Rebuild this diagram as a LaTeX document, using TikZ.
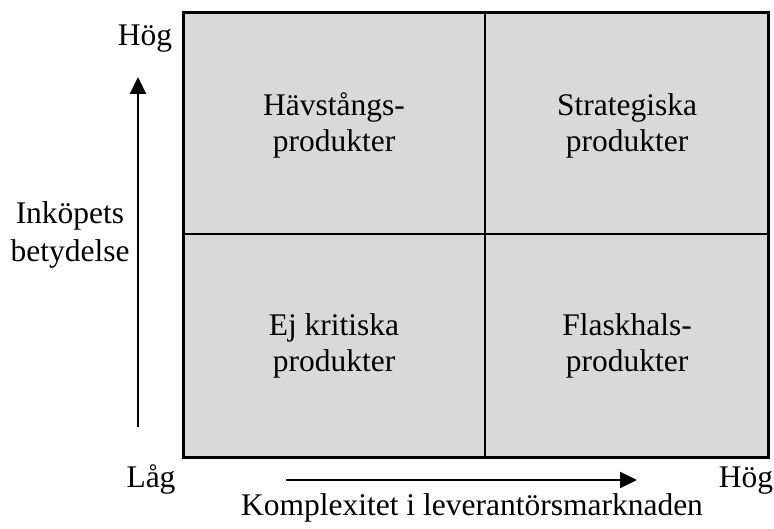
\documentclass[tikz,border=0pt]{standalone}
\usepackage{fontspec}
\setmainfont{Liberation Serif}
\usetikzlibrary{arrows.meta}
\definecolor{boxgray}{HTML}{D9D9D9}
\tikzset{
  lbl/.style={inner sep=0pt, anchor=base, align=center,
    font=\fontsize{31.5}{36}\selectfont},
  axis/.style={line width=2.2pt, -{Triangle[length=17pt,width=16pt]}},
  frame/.style={line width=3pt, fill=boxgray},
  divider/.style={line width=2.7pt}
}
\begin{document}
\begin{tikzpicture}[x=1pt,y=-1pt]
\useasboundingbox (0,0) rectangle (774,529);
\draw[frame] (183,13) rectangle (768,457);
\draw[divider] (485,13) -- (485,457);
\draw[divider] (183,234) -- (768,234);
\node[lbl] (c1) at (334,152) {Hävstångs-\\produkter};
\node[lbl] (c2) at (627,152) {Strategiska\\produkter};
\node[lbl] (c3) at (334,372) {Ej kritiska\\produkter};
\node[lbl, font=\fontsize{31.5}{38}\selectfont] (ylab) at (70,262) {Inköpets\\betydelse};
\node[lbl] (c4) at (627,372) {Flaskhals-\\produkter};
\node[lbl] (ytop) at (145,46) {Hög};
\node[lbl] (ylow) at (151,487) {Låg};
\node[lbl] (xhigh) at (746,487) {Hög};
\node[lbl] (xlab) at (472,515) {Komplexitet i leverantörsmarknaden};
\coordinate (ys) at (138,427);
\coordinate (ye) at (138,77);
\coordinate (xs) at (286,480);
\coordinate (xe) at (637,480);
\draw[axis] (ys) -- (ye);
\draw[axis] (xs) -- (xe);
\end{tikzpicture}
\end{document}
